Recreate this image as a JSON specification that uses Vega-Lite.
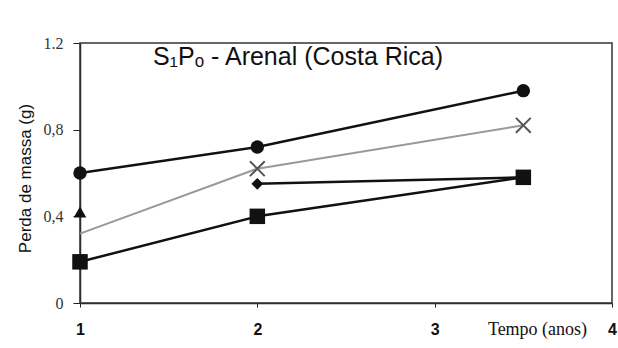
{
  "$schema": "https://vega.github.io/schema/vega-lite/v6.json",
  "autosize": {"type": "none"},
  "width": 532,
  "height": 260,
  "padding": {"left": 80, "top": 43, "right": 6, "bottom": 45},
  "background": "white",
  "title": {
    "text": "S₁Pₒ - Arenal (Costa Rica)",
    "font": "Liberation Sans",
    "fontSize": 25,
    "fontWeight": 500,
    "color": "#111",
    "anchor": "middle",
    "orient": "top",
    "offset": -35,
    "dx": -48
  },
  "config": {
    "view": {"stroke": null},
    "axis": {"grid": false, "domainColor": "#222", "domainWidth": 1.5, "tickColor": "#222"}
  },
  "data": {
    "values": [
      {"serie": "A", "t": 1, "m": 0.6},
      {"serie": "A", "t": 2, "m": 0.72},
      {"serie": "A", "t": 3.5, "m": 0.98},
      {"serie": "B", "t": 1, "m": 0.32},
      {"serie": "B", "t": 2, "m": 0.62},
      {"serie": "B", "t": 3.5, "m": 0.82},
      {"serie": "C", "t": 1, "m": 0.42},
      {"serie": "D", "t": 2, "m": 0.55},
      {"serie": "D", "t": 3.5, "m": 0.58},
      {"serie": "E", "t": 1, "m": 0.19},
      {"serie": "E", "t": 2, "m": 0.4},
      {"serie": "E", "t": 3.5, "m": 0.58}
    ]
  },
  "layer": [
    {
      "transform": [{"filter": "datum.serie == 'C'"}],
      "mark": {"type": "rect", "filled": false, "fill": null, "stroke": "#333", "strokeWidth": 1.5},
      "encoding": {}
    },
    {
      "transform": [{"filter": "datum.serie == 'B'"}],
      "mark": {"type": "line", "color": "#999", "strokeWidth": 2},
      "encoding": {
        "x": {
          "field": "t", "type": "quantitative",
          "scale": {"domain": [1, 4], "nice": false, "zero": false},
          "axis": {
            "orient": "bottom",
            "values": [1, 2, 3, 4], "format": "d",
            "title": "Tempo (anos)", "titleFont": "Liberation Serif", "titleFontSize": 18, "titleFontWeight": "normal",
            "titleColor": "#111", "titleX": 457, "titleY": 31, "titleBaseline": "alphabetic", "titleAlign": "center",
            "labelFont": "Liberation Sans", "labelFontSize": 16, "labelColor": "#111", "labelFontWeight": "bold",
            "tickSize": 4, "labelPadding": 14, "labelFlush": false
          }
        },
        "y": {
          "field": "m", "type": "quantitative",
          "scale": {"domain": [0, 1.2], "nice": false},
          "axis": {
            "orient": "left",
            "values": [0, 0.4, 0.8, 1.2],
            "labelExpr": "datum.value == 0 ? '0' : datum.value > 1.1 ? '1.2' : replace(format(datum.value, '.1f'), '.', ',')",
            "labelFont": "Liberation Serif", "labelFontSize": 16, "labelColor": "#333",
            "tickSize": 7, "labelPadding": 10,
            "title": "Perda de massa (g)", "titleFont": "Liberation Sans", "titleFontSize": 17, "titleFontWeight": "normal",
            "titleColor": "#111", "titleX": -46, "titleY": 135, "titleAlign": "center"
          }
        }
      }
    },
    {
      "transform": [{"filter": "datum.serie != 'B'"}],
      "mark": {"type": "line", "color": "#111", "strokeWidth": 2.5},
      "encoding": {
        "detail": {"field": "serie"},
        "x": {"field": "t", "type": "quantitative"},
        "y": {"field": "m", "type": "quantitative"}
      }
    },
    {
      "transform": [{"filter": "datum.serie == 'A'"}],
      "mark": {"type": "point", "shape": "circle", "filled": true, "color": "#111", "size": 180, "opacity": 1},
      "encoding": {
        "x": {"field": "t", "type": "quantitative"},
        "y": {"field": "m", "type": "quantitative"}
      }
    },
    {
      "transform": [{"filter": "datum.serie == 'B' && datum.t > 1"}],
      "mark": {"type": "point", "shape": "M-1,-1L1,1M-1,1L1,-1", "filled": false, "color": "#555", "strokeWidth": 2, "size": 220, "opacity": 1},
      "encoding": {
        "x": {"field": "t", "type": "quantitative"},
        "y": {"field": "m", "type": "quantitative"}
      }
    },
    {
      "transform": [{"filter": "datum.serie == 'C'"}],
      "mark": {"type": "point", "shape": "triangle-up", "filled": true, "color": "#111", "size": 160, "opacity": 1},
      "encoding": {
        "x": {"field": "t", "type": "quantitative"},
        "y": {"field": "m", "type": "quantitative"}
      }
    },
    {
      "transform": [{"filter": "datum.serie == 'D' && datum.t < 3"}],
      "mark": {"type": "point", "shape": "diamond", "filled": true, "color": "#111", "size": 140, "opacity": 1},
      "encoding": {
        "x": {"field": "t", "type": "quantitative"},
        "y": {"field": "m", "type": "quantitative"}
      }
    },
    {
      "transform": [{"filter": "datum.serie == 'E'"}],
      "mark": {"type": "point", "shape": "square", "filled": true, "color": "#111", "size": 240, "opacity": 1},
      "encoding": {
        "x": {"field": "t", "type": "quantitative"},
        "y": {"field": "m", "type": "quantitative"}
      }
    }
  ]
}
